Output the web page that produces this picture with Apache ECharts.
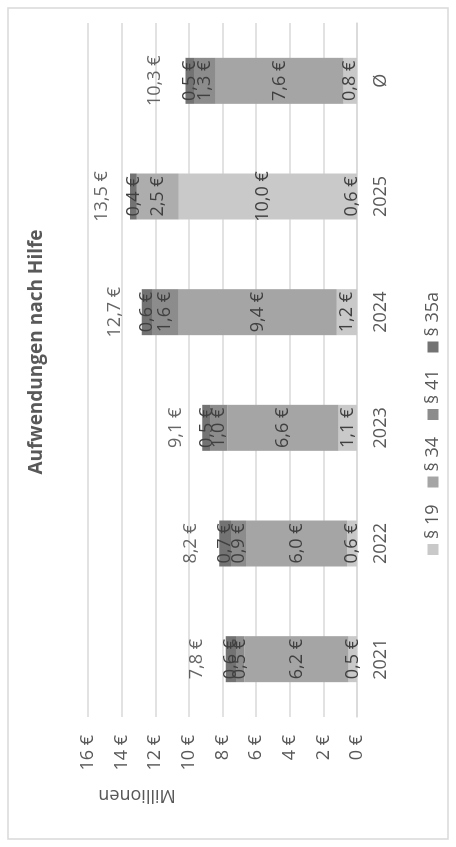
<!DOCTYPE html>
<html>
<head>
<meta charset="utf-8">
<script src="https://cdn.jsdelivr.net/npm/echarts@6/dist/echarts.min.js"></script>
<style>
  html, body { margin: 0; padding: 0; width: 456px; height: 847px; overflow: hidden; background: #fff; }
  /* chart is drawn landscape and turned a quarter to the left */
  #chart { position: absolute; left: 0; top: 0; width: 847px; height: 456px;
    transform-origin: 0 0; transform: translateY(847px) rotate(-90deg); }
</style>
</head>
<body>
<div id="chart"></div>
<script>
const categories = ['2021', '2022', '2023', '2024', '2025', 'Ø']
const s19 = [0.5, 0.6, 1.1, 1.2, 0.6, 0.8]
const s34 = [6.2, 6.0, 6.6, 9.4, 10.0, 7.6]
const s41 = [0.5, 0.9, 1.0, 1.6, 2.5, 1.3]
const s35a = [0.6, 0.7, 0.5, 0.6, 0.4, 0.5]
const totals = [7.8, 8.2, 9.1, 12.7, 13.5, 10.3]
const yTicks = [0, 2, 4, 6, 8, 10, 12, 14, 16]

const font = 'Open Sans'
const colors = ['#c9c9c9', '#a5a5a5', '#8c8c8c', '#737373']
// 2025 ist im Original anders eingefärbt
const special = {'§ 34': {4: '#c9c9c9'}, '§ 41': {4: '#adadad'}}

function euro(v) {
  return v.toFixed(1).replace('.', ',') + ' €'
}

function segment(name, values, idx) {
  let over = special[name] || {}
  return {
    name: name,
    type: 'bar',
    stack: 'summe',
    barWidth: 46,
    itemStyle: {color: colors[idx]},
    label: {
      show: true,
      position: 'inside',
      color: '#404040',
      fontSize: 18,
      fontFamily: font,
      formatter: function (p) { return euro(p.value) }
    },
    data: values.map(function (v, i) {
      return over[i] ? {value: v, itemStyle: {color: over[i]}} : v
    })
  }
}

let myChart = echarts.init(document.getElementById('chart'))
let option = {
  animation: false,
  title: {
    text: 'Aufwendungen nach Hilfe',
    left: 490,
    textAlign: 'center',
    top: 22,
    textStyle: {fontSize: 19, fontWeight: 'bold', color: '#595959', fontFamily: font}
  },
  legend: {
    data: ['§ 19', '§ 34', '§ 41', '§ 35a'],
    left: 'center',
    top: 419,
    icon: 'rect',
    itemWidth: 11,
    itemHeight: 11,
    itemGap: 17,
    textStyle: {fontSize: 18, color: '#595959', fontFamily: font}
  },
  grid: {left: 130, right: 23, top: 88, bottom: 99, containLabel: false},
  xAxis: {
    type: 'category',
    data: categories,
    axisTick: {show: false},
    axisLine: {lineStyle: {color: '#d9d9d9', width: 1.5}},
    axisLabel: {fontSize: 18, color: '#595959', fontFamily: font, margin: 15}
  },
  yAxis: {
    type: 'value',
    min: yTicks[0],
    max: yTicks[yTicks.length - 1],
    interval: yTicks[1] - yTicks[0],
    axisLine: {show: false},
    axisTick: {show: false},
    axisLabel: {fontSize: 18, color: '#595959', fontFamily: font, margin: 18,
      formatter: function (v) { return v + ' €' }},
    splitLine: {lineStyle: {color: '#d9d9d9', width: 1.5}}
  },
  graphic: [
    {
      type: 'rect',
      shape: {x: 8, y: 8, width: 831, height: 440},
      style: {fill: 'none', stroke: '#d9d9d9', lineWidth: 1.5},
      silent: true
    },
    {
      type: 'text',
      x: 52,
      y: 137,
      rotation: Math.PI / 2,
      style: {text: 'Millionen', fontSize: 18, fontFamily: font, fill: '#595959',
        align: 'center', verticalAlign: 'middle'}
    }
  ],
  series: [
    segment('§ 19', s19, 0),
    segment('§ 34', s34, 1),
    segment('§ 41', s41, 2),
    segment('§ 35a', s35a, 3),
    {
      name: 'Summe',
      type: 'scatter',
      symbolSize: 1,
      itemStyle: {color: 'rgba(0,0,0,0)'},
      label: {
        show: true,
        position: 'top',
        distance: 19,
        color: '#404040',
        fontSize: 18,
        fontFamily: font,
        formatter: function (p) { return euro(p.value) }
      },
      data: totals
    }
  ]
}
myChart.setOption(option)
</script>
</body>
</html>
